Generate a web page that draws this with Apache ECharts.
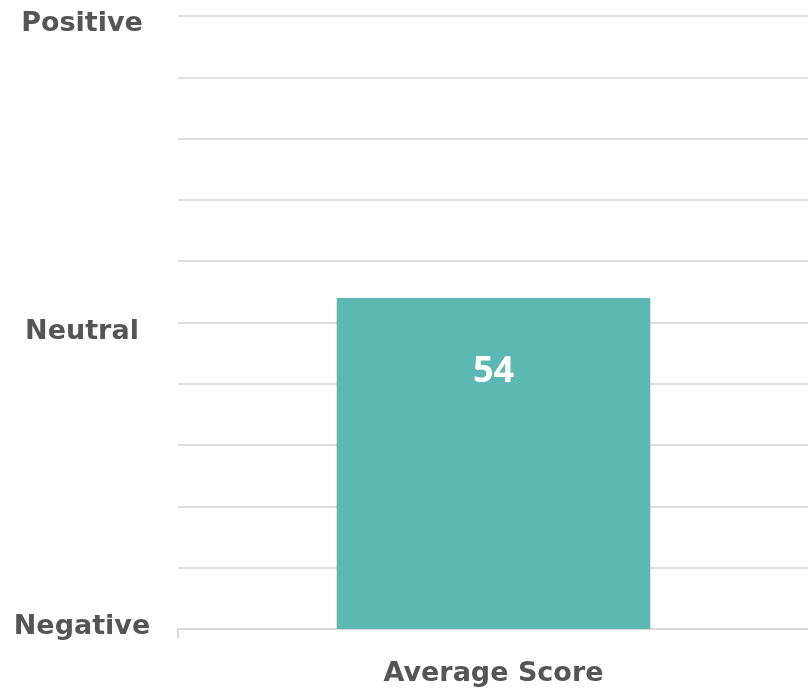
<!DOCTYPE html>
<html><head><meta charset="utf-8">
<script src="https://cdn.jsdelivr.net/npm/echarts@6/dist/echarts.min.js"></script>
<style>html,body{margin:0;padding:0;background:#fff;overflow:hidden}#c{width:812px;height:691px}</style>
</head><body><div id="c"></div>
<script>
const categories = ["Average Score"];
const values = [54];
const yTickLabels = {0: "Negative", 50: "Neutral", 100: "Positive"};

const FONT = 'DejaVu Sans';
const chart = echarts.init(document.getElementById('c'));
const lbl = {color: '#555', fontFamily: FONT, fontWeight: 'bold', fontSize: 27};
chart.setOption({
  animation: false,
  grid: {left: 178, right: 3, top: 16, bottom: 62},
  xAxis: {
    type: 'category', data: categories,
    axisLine: {lineStyle: {color: '#d9d9d9', width: 2}},
    axisTick: {show: true, length: 9, lineStyle: {color: '#d9d9d9', width: 2}},
    axisLabel: Object.assign({margin: 31}, lbl)
  },
  yAxis: {
    type: 'value', min: 0, max: 100, interval: 10,
    axisLine: {show: false}, axisTick: {show: false},
    splitLine: {lineStyle: {color: '#dedede', width: 2}},
    axisLabel: Object.assign({
      align: 'center', margin: 96,
      formatter: v => {
        if (v === 100) return '{t|' + yTickLabels[v] + '}';
        if (v === 50) return '{m|' + yTickLabels[v] + '}';
        if (v === 0) return '{b|' + yTickLabels[v] + '}';
        return '';
      },
      rich: {
        t: Object.assign({padding: [16, 0, 0, 0]}, lbl),
        m: Object.assign({padding: [18, 0, 0, 0]}, lbl),
        b: Object.assign({padding: [0, 0, 4, 0]}, lbl)
      }
    }, lbl)
  },
  series: [{
    type: 'bar', data: values, barWidth: '49.7%',
    itemStyle: {color: '#5cb8b2'},
    label: {show: true, position: 'insideTop', distance: 56, color: '#fff',
      fontFamily: 'Noto Sans', fontWeight: 'bold', fontSize: 36}
  }]
});
</script></body></html>
